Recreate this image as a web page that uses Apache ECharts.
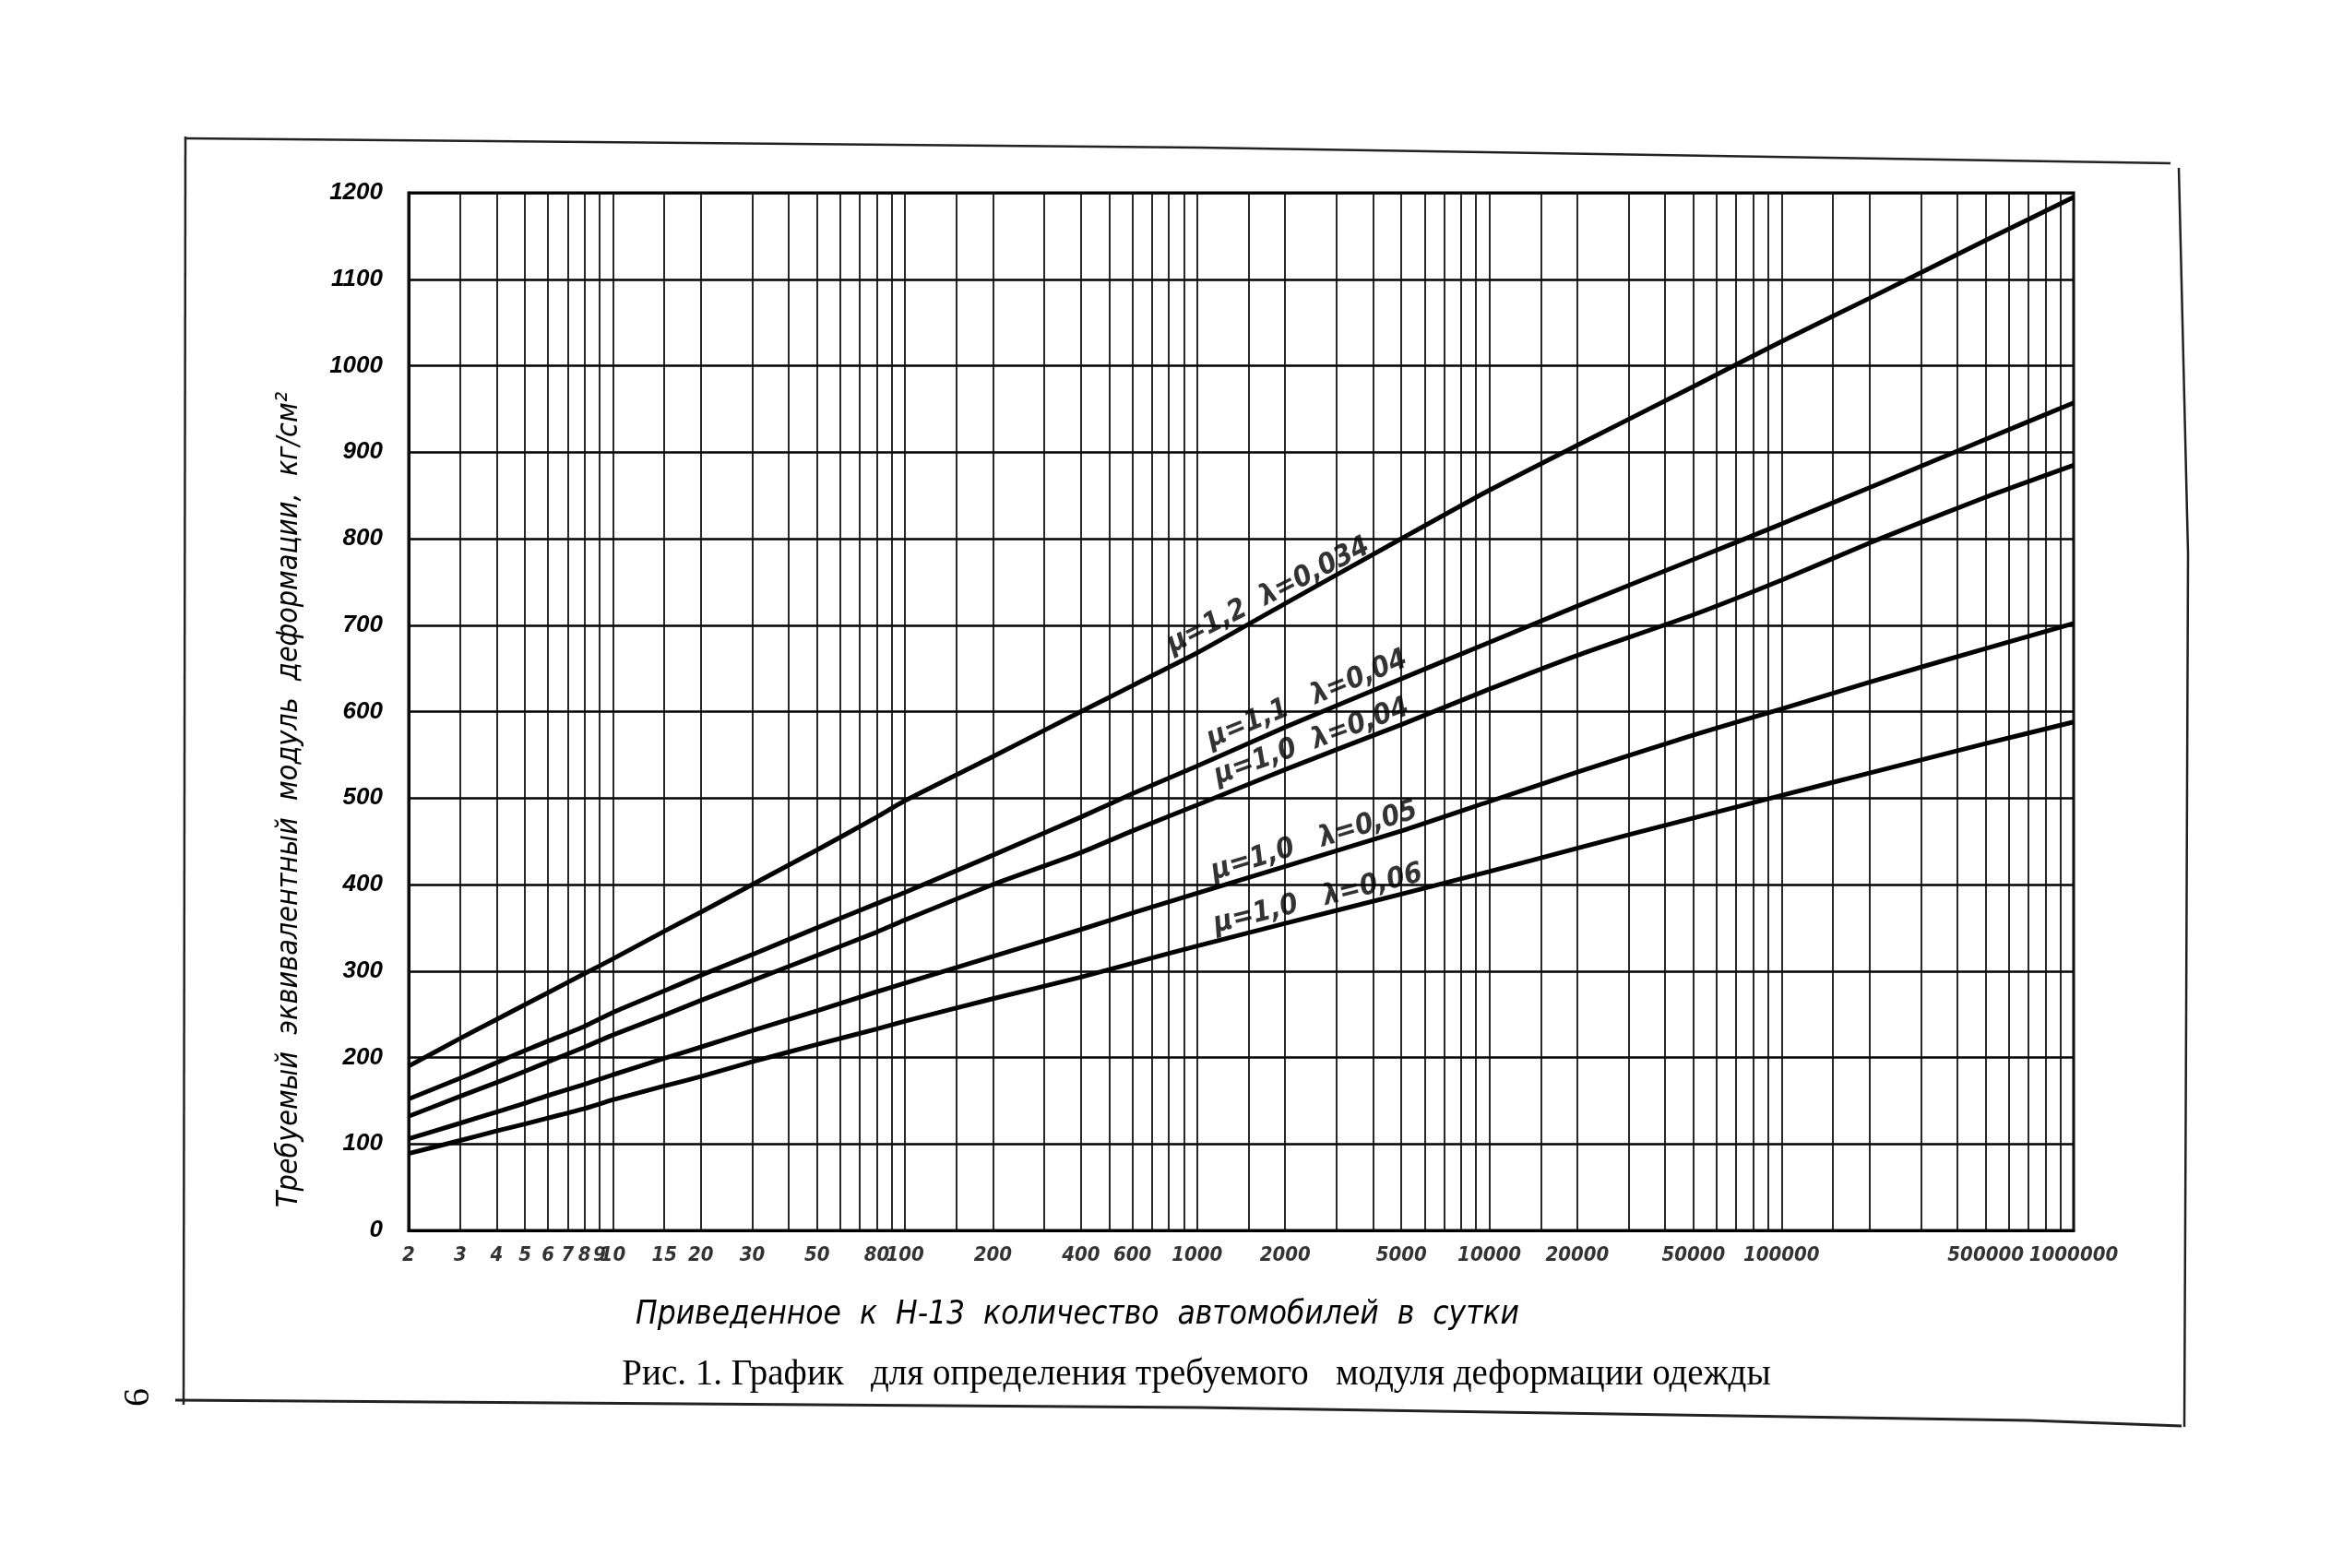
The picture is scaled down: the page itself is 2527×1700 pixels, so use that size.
<!DOCTYPE html>
<html><head><meta charset="utf-8">
<script src="https://cdn.jsdelivr.net/npm/echarts@6/dist/echarts.min.js"></script>
<style>html,body{margin:0;padding:0;background:#fff}#c{width:2527px;height:1700px}</style>
</head><body><div id="c"></div>
<script>
// ---- data ----
const xValues = [2,3,4,5,6,8,10,15,20,30,50,80,100,200,400,600,1000,2000,5000,10000,20000,50000,100000,200000,500000,1000000];
const curveMu12L0034 = [190,222,244,261,275,297,314,346,368,400,440,478,497,548,600,630,668,725,800,856,908,976,1028,1078,1145,1195];
const curveMu11L004  = [152,176,194,208,219,236,252,277,295,319,350,378,391,434,478,505,537,582,638,680,722,776,817,859,915,957];
const curveMu10L004  = [132,155,171,184,195,212,226,249,266,289,318,345,359,400,437,462,492,533,585,626,665,712,752,795,848,885];
const curveMu10L005  = [106,124,137,147,156,169,180,199,212,231,254,276,286,317,348,367,390,421,462,496,530,573,603,634,673,702];
const curveMu10L006  = [89,104,115,123,130,141,151,167,178,195,215,233,242,268,293,309,329,355,389,415,442,477,503,529,563,588];
const curveNames = ['μ=1,2  λ=0,034','μ=1,1   λ=0,04','μ=1,0  λ=0,04','μ=1,0   λ=0,05','μ=1,0   λ=0,06'];
const curveLabelX = [1754, 2380, 2466, 2518, 2594];
const curveLabelY = [734, 614, 565, 450, 383];
const curveLabelAngle = [27, 22.5, 20, 17, 14];
const xGridValues = [2,3,4,5,6,7,8,9,10,15,20,30,40,50,60,70,80,90,100,150,200,300,400,500,600,700,800,900,1000,
  1500,2000,3000,4000,5000,6000,7000,8000,9000,10000,15000,20000,30000,40000,50000,60000,70000,80000,90000,100000,
  150000,200000,300000,400000,500000,600000,700000,800000,900000,1000000];
const xTickLabels = [2,3,4,5,6,7,8,9,10,15,20,30,50,80,100,200,400,600,1000,2000,5000,10000,20000,50000,100000,500000,1000000];
const yMin = 0, yMax = 1200, yStep = 100;
const xTitle = 'Приведенное  к  Н-13  количество  автомобилей  в  сутки';
const yTitle = 'Требуемый  эквивалентный  модуль  деформации,  кг/см²';
const caption = 'Рис. 1. График   для определения требуемого   модуля деформации одежды';

const curves = [curveMu12L0034, curveMu11L004, curveMu10L004, curveMu10L005, curveMu10L006];
const handFont = "'Liberation Sans Narrow','DejaVu Sans Condensed','Liberation Sans',sans-serif";

const chart = echarts.init(document.getElementById('c'), null, {renderer:'canvas'});
const series = [];
series.push({
  type:'line', data:[], silent:true, z:1,
  markLine:{ symbol:'none', silent:true, animation:false,
    lineStyle:{color:'#111', width:1.8, type:'solid'}, label:{show:false},
    data: xGridValues.map(v=>({xAxis:v})) }
});
curves.forEach((ys,k)=>{
  series.push({ type:'line', name:curveNames[k], z:5, symbol:'none', smooth:0.2,
    lineStyle:{color:'#000', width:5},
    data: xValues.map((x,i)=>[x, ys[i]]) });
});
series.push({ type:'scatter', z:6, symbolSize:0, clip:false,
  data: curveNames.map((n,k)=>({value:[curveLabelX[k], curveLabelY[k]],
     label:{rotate:curveLabelAngle[k]}})),
  label:{show:true, position:'inside', color:'#000', fontSize:31, fontStyle:'italic', fontWeight:'bold',
    fontFamily:handFont, formatter:p=>curveNames[p.dataIndex]} });
series.push({ type:'scatter', z:6, symbolSize:0, clip:false,
  data: xTickLabels.map(v=>[v, yMin]),
  label:{show:true, position:'bottom', distance:16, color:'#000', fontSize:22,
    fontStyle:'italic', fontWeight:'bold', fontFamily:handFont,
    formatter:p=>String(p.value[0])} });

chart.setOption({
  animation:false,
  backgroundColor:'#fff',
  grid:{left:443, right:279, top:209, bottom:366, show:true, borderColor:'#000', borderWidth:3},
  xAxis:{type:'log', logBase:10, min:2, max:1000000,
    axisLine:{show:true, lineStyle:{color:'#000', width:3}},
    axisTick:{show:false}, axisLabel:{show:false}, splitLine:{show:false}, minorSplitLine:{show:false}},
  yAxis:{type:'value', min:yMin, max:yMax, interval:yStep,
    axisLine:{show:true, lineStyle:{color:'#000', width:3}},
    axisTick:{show:false},
    axisLabel:{margin:28, color:'#000', fontSize:26, fontStyle:'italic', fontWeight:'bold',
      fontFamily:"'Liberation Sans',sans-serif", formatter:v=>String(v)},
    splitLine:{show:true, lineStyle:{color:'#000', width:2.6}}},
  series: series,
  graphic:[
    {type:'polyline', shape:{points:[[201,150],[1300,160],[2353,177]]}, style:{stroke:'#222', lineWidth:2.5, fill:null}},
    {type:'line', shape:{x1:201,y1:148,x2:199,y2:1523}, style:{stroke:'#222', lineWidth:2.5}},
    {type:'polyline', shape:{points:[[190,1518],[1300,1526],[2200,1540],[2365,1546]]}, style:{stroke:'#222', lineWidth:3, fill:null}},
    {type:'polyline', shape:{points:[[2362,182],[2372,600],[2370,1100],[2368,1547]]}, style:{stroke:'#222', lineWidth:2.5, fill:null}},
    {type:'text', x:150, y:1515, rotation:Math.PI/2, style:{text:'6', fontSize:40, fontFamily:"'Liberation Serif',serif", fill:'#000', align:'center', verticalAlign:'middle'}},
    {type:'text', x:314, y:867, rotation:Math.PI/2, style:{text:yTitle, fontSize:32, fontStyle:'italic', fontFamily:handFont, fill:'#000', align:'center', verticalAlign:'middle'}},
    {type:'text', x:1168, y:1426, style:{text:xTitle, fontSize:35, fontStyle:'italic', fontFamily:handFont, fill:'#000', align:'center', verticalAlign:'middle'}},
    {type:'text', x:1297, y:1491, style:{text:caption, fontSize:39, fontFamily:"'Liberation Serif',serif", fill:'#000', align:'center', verticalAlign:'middle'}}
  ]
});
</script></body></html>
